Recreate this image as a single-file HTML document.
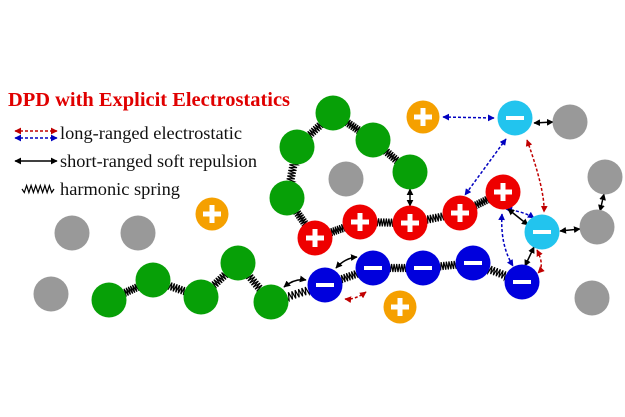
<!DOCTYPE html>
<html><head><meta charset="utf-8"><style>
html,body{margin:0;padding:0;background:#fff;width:625px;height:417px;overflow:hidden}
svg{display:block}
</style></head><body>
<svg id="s" width="625" height="417" viewBox="0 0 625 417" xmlns="http://www.w3.org/2000/svg">
<defs>
<marker id="ak" viewBox="0 0 10 10" refX="9" refY="5" markerWidth="4.5" markerHeight="4.5" orient="auto-start-reverse"><path d="M0,0L10,5L0,10z" fill="#000"/></marker>
<marker id="ar" viewBox="0 0 10 10" refX="9" refY="5" markerWidth="4.5" markerHeight="4.5" orient="auto-start-reverse"><path d="M0,0L10,5L0,10z" fill="#c00000"/></marker>
<marker id="ab" viewBox="0 0 10 10" refX="9" refY="5" markerWidth="4.5" markerHeight="4.5" orient="auto-start-reverse"><path d="M0,0L10,5L0,10z" fill="#0000c0"/></marker>
</defs>
<text x="8" y="106" font-family="Liberation Serif, serif" font-weight="bold" font-size="20.5" fill="#e00000" textLength="282" lengthAdjust="spacingAndGlyphs">DPD with Explicit Electrostatics</text>
<text x="60" y="139" font-family="Liberation Serif, serif" font-size="18" fill="#111" textLength="182" lengthAdjust="spacingAndGlyphs">long-ranged electrostatic</text>
<text x="60" y="167" font-family="Liberation Serif, serif" font-size="18" fill="#111" textLength="197" lengthAdjust="spacingAndGlyphs">short-ranged soft repulsion</text>
<text x="60" y="195" font-family="Liberation Serif, serif" font-size="18" fill="#111" textLength="120" lengthAdjust="spacingAndGlyphs">harmonic spring</text>
<g id="g"></g>
</svg>
<script>
var g=document.getElementById('g'),NS='http://www.w3.org/2000/svg';
function el(t,a){var e=document.createElementNS(NS,t);for(var k in a)e.setAttribute(k,a[k]);g.appendChild(e);return e;}
function spring(x1,y1,x2,y2,n,amp){var dx=x2-x1,dy=y2-y1,L=Math.hypot(dx,dy),ux=dx/L,uy=dy/L,px=-uy,py=ux,p=[];p.push(x1+','+y1);for(var i=1;i<n;i++){var t=i/n,s=(i%2?1:-1)*amp;p.push((x1+dx*t+px*s).toFixed(1)+','+(y1+dy*t+py*s).toFixed(1));}p.push(x2+','+y2);el('polyline',{points:p.join(' '),fill:'none',stroke:'#000','stroke-width':1.2});}
function link(a,b,n){var dx=b[0]-a[0],dy=b[1]-a[1],L=Math.hypot(dx,dy),r=16;spring(a[0]+dx/L*r,a[1]+dy/L*r,b[0]-dx/L*r,b[1]-dy/L*r,n||14,4);}
function arr(d,c){var m={k:'ak',r:'ar',b:'ab'}[c],col={k:'#000',r:'#c00000',b:'#0000c0'}[c];var a={d:d,fill:'none',stroke:col,'stroke-width':1.5,'marker-start':'url(#'+m+')','marker-end':'url(#'+m+')'};if(c!='k')a['stroke-dasharray']='3,2';el('path',a);}
arr('M15,131 L57,131','r');arr('M15,138 L57,138','b');arr('M15,161 L57,161','k');spring(22,189,54,189,14,3.5);
var G1=[[109,300],[153,280],[201,297],[238,263],[271,302]];
var GR=[[287,198],[297,147],[333,113],[373,140],[410,172]];
var R=[[315,238],[360,222],[410,223],[460,213],[503,192]];
var B=[[325,285],[373,268],[423,268],[473,263],[522,282]];
for(var i=0;i<4;i++){link(G1[i],G1[i+1]);link(GR[i],GR[i+1]);link(R[i],R[i+1]);link(B[i],B[i+1]);}
link(GR[0],R[0]);link(G1[4],B[0]);
arr('M443,117 L494,118','b');arr('M506,139 L465,195','b');arr('M534,123 L553,122','k');
arr('M527,140 Q545,190 544,212','r');arr('M506,209 Q525,212 534,218','b');arr('M508,209 L528,225','k');
arr('M502,214 Q500,245 513,266','b');arr('M525,266 L534,247','k');arr('M537,250 Q545,266 538,273','r');
arr('M560,231 L580,229','k');arr('M604,194 L600,211','k');arr('M410,189 L410,206','k');
arr('M284,287 Q295,278 306,280','k');arr('M336,268 Q345,258 357,257','k');arr('M345,299 Q355,300 366,292','r');
function ball(p,c,sign,r){el('circle',{cx:p[0],cy:p[1],r:r||17.5,fill:c});if(sign){var w='#fff';if(sign=='+'){el('rect',{x:p[0]-9,y:p[1]-2.5,width:18,height:5,fill:w});el('rect',{x:p[0]-2.5,y:p[1]-9,width:5,height:18,fill:w});}else el('rect',{x:p[0]-9,y:p[1]-2,width:18,height:4,fill:w});}}
[[72,233],[138,233],[51,294],[346,179],[570,122],[605,177],[597,227],[592,298]].forEach(function(p){ball(p,'#999');});
G1.concat(GR).forEach(function(p){ball(p,'#07a007');});
R.forEach(function(p){ball(p,'#ee0000','+');});
B.forEach(function(p){ball(p,'#0000dd','-');});
[[515,118],[542,232]].forEach(function(p){ball(p,'#22c4ee','-');});
[[423,117],[212,214],[400,307]].forEach(function(p){ball(p,'#f5a000','+',16.5);});
</script>
</body></html>
